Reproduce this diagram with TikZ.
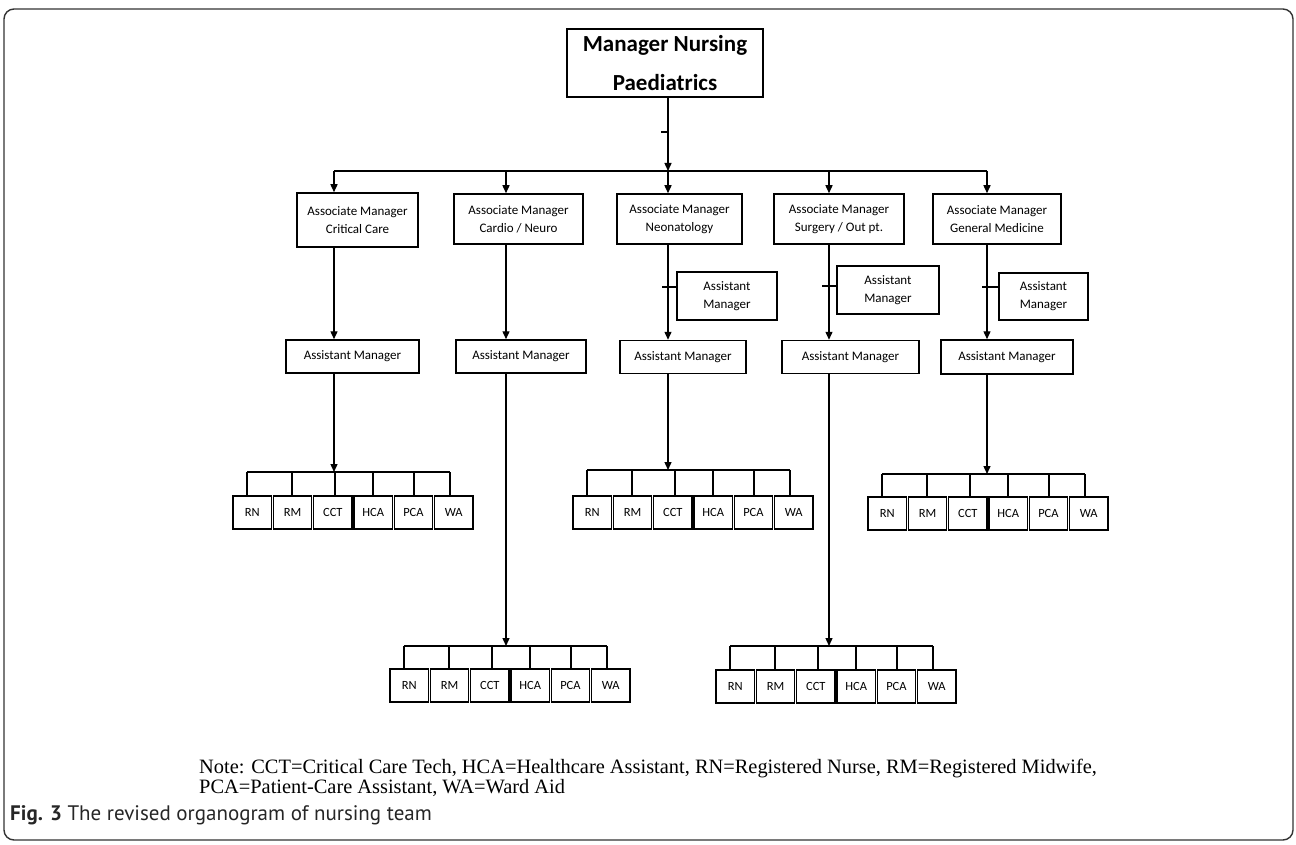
\documentclass[tikz,border=0pt]{standalone}
\usepackage{fontspec}
\usetikzlibrary{arrows.meta}
\newfontfamily\calf{Carlito}
\newfontfamily\timesf{Liberation Serif}
\newfontfamily\capf{PT Sans}
\tikzset{
  box/.style={draw, line width=1.5pt, inner sep=0pt, align=center,
    font=\calf\fontsize{13}{18}\selectfont},
  topbox/.style={draw, line width=2pt, inner sep=0pt, align=center,
    font=\calf\bfseries\fontsize{23}{39}\selectfont},
  staff/.style={draw, line width=1.3pt, inner sep=0pt, minimum width=38.5pt,
    minimum height=33pt, font=\calf\fontsize{12.5}{14}\selectfont},
  conn/.style={line width=1.4pt},
  arr/.style={conn, -{Triangle[width=7pt,length=8pt]}},
}
% #1 name, #2 left x of first box, #3 bar y, #4 box top y
\newcommand\staffrow[4]{%
  \foreach \lab [count=\i from 0] in {RN,RM,CCT,HCA,PCA,WA}{
    \node[staff] (#1-\i) at ({#2+19.25+40.3*\i},{#4+16.5}) {\lab};
  }
  \foreach \o [count=\i from 0] in {14,59,102,140,181,217}{
    \coordinate (#1-t\i) at ({#2+\o},#3);
    \draw[conn] (#1-t\i) -- (#1-t\i |- #1-\i.north);
  }
  \draw[conn] (#1-t0) -- (#1-t5);
}
\begin{document}
\begin{tikzpicture}[x=1pt,y=-1pt]
\useasboundingbox (0,0) rectangle (1296,845);
\draw[line width=1.4pt, rounded corners=10pt, draw=black!80] (4,9) rectangle (1293,840);

% top
\node[topbox, minimum width=196pt, minimum height=68pt] (top) at (665,63) {Manager Nursing\\Paediatrics};

% bar coordinates
\coordinate (b1) at (334,171);
\coordinate (b2) at (506,171);
\coordinate (b3) at (668,171);
\coordinate (b4) at (829,171);
\coordinate (b5) at (987,171);
\draw[arr] (top.south -| b3) -- (b3);
\coordinate (tk) at (661,132);
\draw[conn] (tk) -- (tk -| b3);
\draw[conn] (b1) -- (b5);

% associate managers
\node[box, minimum width=121pt, minimum height=54pt] (a1) at (357.5,220) {Associate Manager\\Critical Care};
\node[box, minimum width=129pt, minimum height=50pt] (a2) at (518.5,219) {Associate Manager\\Cardio / Neuro};
\node[box, minimum width=125pt, minimum height=50pt] (a3) at (679.5,219) {Associate Manager\\Neonatology};
\node[box, minimum width=130pt, minimum height=50pt] (a4) at (839,219) {Associate Manager\\Surgery / Out pt.};
\node[box, minimum width=128pt, minimum height=50pt] (a5) at (997,219) {Associate Manager\\General Medicine};
\foreach \k in {1,...,5}{
  \draw[arr] (b\k) -- (b\k |- a\k.north);
}

% assistant managers
\node[box, minimum width=133pt, minimum height=33pt] (m1) at (352.5,356.5) {Assistant Manager};
\node[box, minimum width=130pt, minimum height=33pt] (m2) at (521,356.5) {Assistant Manager};
\node[box, minimum width=126pt, minimum height=33pt] (m3) at (683,357) {Assistant Manager};
\node[box, minimum width=137pt, minimum height=33pt] (m4) at (850.5,357) {Assistant Manager};
\node[box, minimum width=132pt, minimum height=34pt] (m5) at (1007,357) {Assistant Manager};
\foreach \k in {1,...,5}{
  \draw[arr] (a\k.south -| b\k) -- (m\k.north -| b\k);
}

% side assistant managers
\node[box, minimum width=100pt, minimum height=48pt] (s3) at (727,296) {Assistant\\Manager};
\node[box, minimum width=102pt, minimum height=48pt] (s4) at (888,290) {Assistant\\Manager};
\node[box, minimum width=89pt, minimum height=47pt] (s5) at (1043.5,296.5) {Assistant\\Manager};
\coordinate (k3) at (662,287);
\coordinate (k4) at (822,286);
\coordinate (k5) at (982,287);
\draw[conn] (k3) -- (k3 -| s3.west);
\draw[conn] (k4) -- (k4 -| s4.west);
\draw[conn] (k5) -- (k5 -| s5.west);

% staff rows
\staffrow{g1}{233}{472}{496}
\staffrow{g2}{390}{646}{669}
\staffrow{g3}{573}{470}{496}
\staffrow{g4}{716}{646}{670}
\staffrow{g5}{868}{474}{497}
\draw[arr] (m1.south -| b1) -- (g1-t0 -| b1);
\draw[arr] (m2.south -| b2) -- (g2-t0 -| b2);
\draw[arr] (m3.south -| b3) -- (g3-t0 -| b3);
\draw[arr] (m4.south -| b4) -- (g4-t0 -| b4);
\draw[arr] (m5.south -| b5) -- (g5-t0 -| b5);

% note and caption
\node[anchor=base west, inner sep=0pt, font=\timesf\fontsize{20.4}{20}\selectfont] (n1) at (199,773)
  {Note: CCT=Critical Care Tech, HCA=Healthcare Assistant, RN=Registered Nurse, RM=Registered Midwife,};
\node[anchor=base west, inner sep=0pt, font=\timesf\fontsize{20.4}{20}\selectfont] (n2) at (199,793)
  {PCA=Patient-Care Assistant, WA=Ward Aid};
\node[anchor=base west, inner sep=0pt, font=\capf\fontsize{21}{24}\selectfont, text=black!85] (cap) at (10,820)
  {\textbf{Fig. 3} The revised organogram of nursing team};
\end{tikzpicture}
\end{document}
